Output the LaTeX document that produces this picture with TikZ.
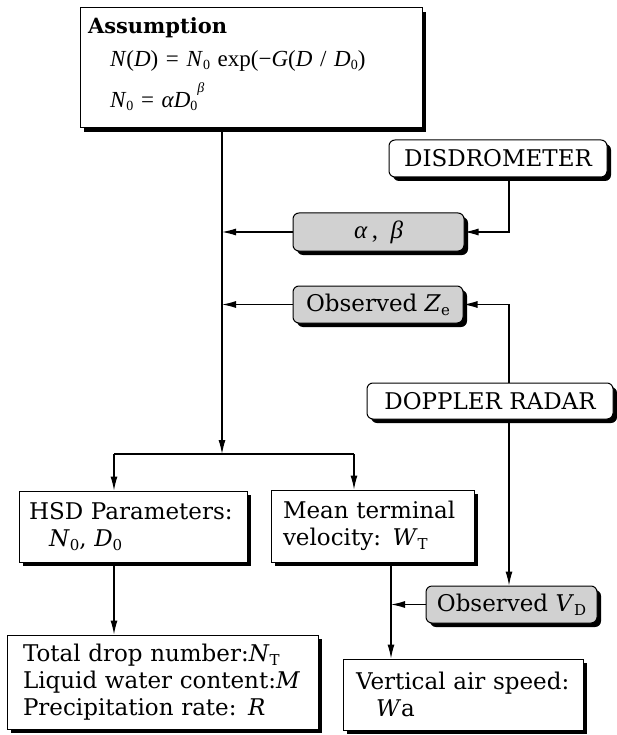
\documentclass[tikz,border=0pt]{standalone}
\usepackage{fontspec}
\setmainfont{DejaVu Serif}
\newfontfamily\tms{Liberation Serif}
\usetikzlibrary{arrows.meta,shadows}
\newcommand{\sbs}[1]{\raisebox{-0.3ex}{\fontsize{14}{14}\selectfont #1}}
\newcommand{\tsb}[1]{\raisebox{-0.35ex}{\fontsize{15}{15}\selectfont #1}}
\newcommand{\eqf}{\tms\fontsize{23}{23}\selectfont}
\tikzset{
  box/.style={draw, line width=1pt, fill=white, inner ysep=0pt, align=left,
    font=\fontsize{23}{27}\selectfont,
    drop shadow={shadow xshift=4pt, shadow yshift=-4pt, fill=black, opacity=1}},
  rbox/.style={box, rounded corners=6pt, align=center, inner xsep=0pt},
  gbox/.style={rbox, fill=black!18},
  arr/.style={-{Latex[length=14pt,width=7pt]}, line width=1.1pt},
  ln/.style={line width=1.1pt}
}
\begin{document}
\begin{tikzpicture}[x=1pt,y=-1pt]
\useasboundingbox (0,0) rectangle (617,735);
% boxes
\node[box, minimum width=342pt, minimum height=120pt, inner xsep=8pt, text width=326pt] (ass) at (251,68)
  {{\fontsize{21}{21}\selectfont\textbf{Assumption}}\\[6pt]
   \hspace*{22pt}{\eqf\textit{N}(\textit{D}) = \textit{N}\sbs{0} exp(−\textit{G}(\textit{D} / \textit{D}\sbs{0})}\\[10pt]
   \hspace*{22pt}{\eqf\textit{N}\sbs{0} = \textit{αD}\sbs{0}\raisebox{1.4ex}{\fontsize{14}{14}\selectfont\textit{β}}}\rule[-11pt]{0pt}{11pt}};
\node[rbox, minimum width=218pt, minimum height=37pt] (dis) at (498,158.5) {DISDROMETER};
\node[gbox, minimum width=171pt, minimum height=38pt] (ab) at (378.5,232) {{\tms\fontsize{25}{25}\selectfont\textit{α}\,,\ \ \textit{β}}};
\node[gbox, minimum width=170pt, minimum height=37pt] (ze) at (378,304.5) {Observed \textit{Z}\tsb{e}};
\node[rbox, minimum width=246pt, minimum height=36pt] (dop) at (490,401) {DOPPLER RADAR};
\node[box, minimum width=228pt, minimum height=71pt, inner xsep=10pt, text width=208pt] (hsd) at (133,526.5)
  {HSD Parameters:\\\hspace*{20pt}\textit{N}\tsb{0}, \textit{D}\tsb{0}};
\node[box, minimum width=203pt, minimum height=72pt, inner xsep=12pt, text width=179pt] (mean) at (372.5,526)
  {Mean terminal\\velocity: \textit{W}\tsb{T}};
\node[gbox, minimum width=171pt, minimum height=37pt] (vd) at (511.5,604.5) {Observed \textit{V}\tsb{D}};
\node[box, minimum width=311pt, minimum height=94pt, inner xsep=16pt, text width=279pt] (tot) at (162.5,682)
  {Total drop number:\textit{N}\tsb{T}\\Liquid water content:\textit{M}\\Precipitation rate: \textit{R}};
\node[box, minimum width=240pt, minimum height=71pt, inner xsep=13pt, text width=214pt] (vert) at (463,694.5)
  {Vertical air speed:\\\hspace*{20pt}\textit{W}a};
% junction coordinates
\coordinate (split) at (222,454);
\coordinate (hl) at (114,454);
\coordinate (hr) at (354,454);
\coordinate (dx) at (509,232);
\coordinate (rx) at (509,0);
\coordinate (mx) at (391,0);
% connectors
\draw[arr] (ass.south -| split) -- (split);
\draw[ln] (hl) -- (hr);
\draw[arr] (hl) -- (hsd.north -| hl);
\draw[arr] (hr) -- (mean.north -| hr);
\draw[arr] (ab.west) -- (ab.west -| split);
\draw[arr] (ze.west) -- (ze.west -| split);
\draw[arr] (dis.south -| dx) -- (dx) -- (ab.east);
\draw[arr] (dop.north -| rx) |- (ze.east);
\draw[arr] (dop.south -| rx) -- (vd.north -| rx);
\draw[arr] (mean.south -| mx) -- (vert.north -| mx);
\draw[arr] (vd.west) -- (vd.west -| mx);
\draw[arr] (hsd.south -| hl) -- (tot.north -| hl);
\end{tikzpicture}
\end{document}
